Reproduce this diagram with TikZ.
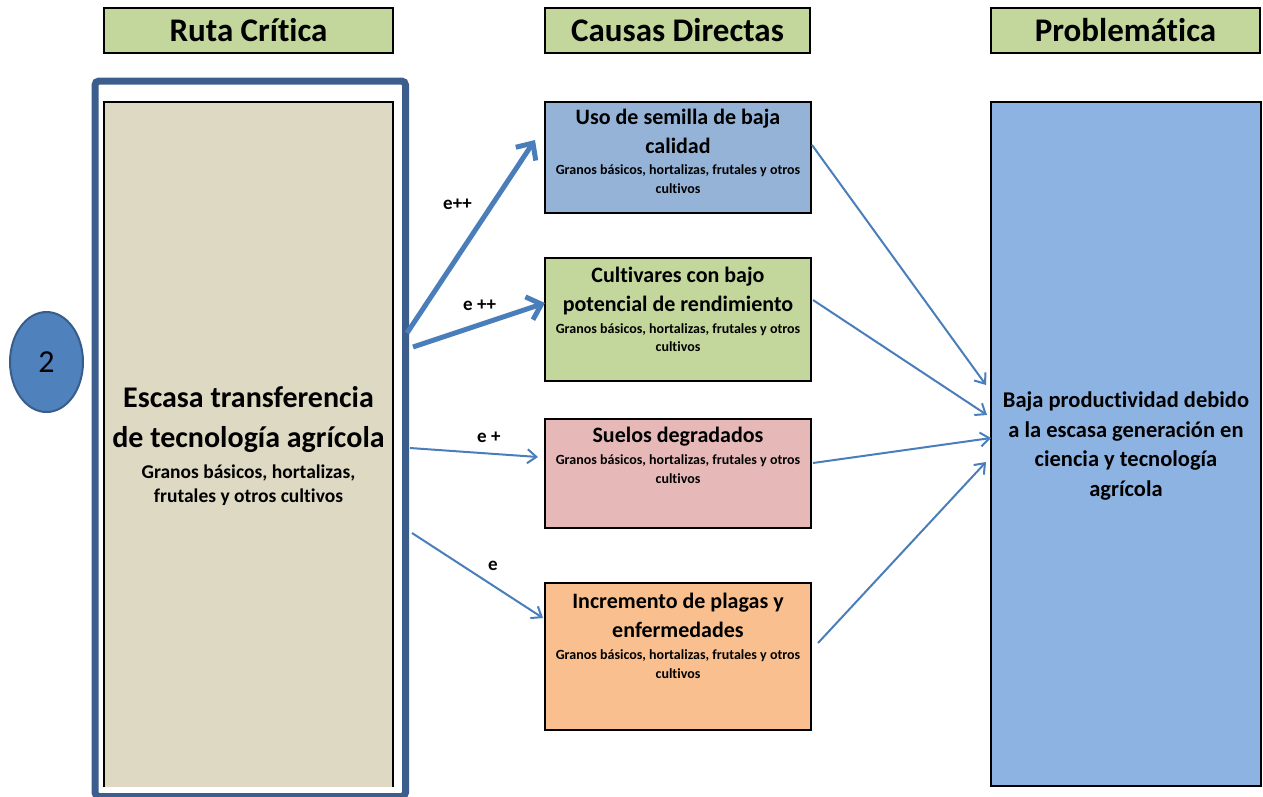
\documentclass[tikz,border=0pt]{standalone}
\usepackage{fontspec}
\setmainfont{Carlito}[Ligatures=NoCommon]
\usetikzlibrary{arrows.meta,calc,shapes.geometric}
\definecolor{titlegreen}{HTML}{C3D69B}
\definecolor{beige}{HTML}{DDD9C3}
\definecolor{frameblue}{HTML}{3B5E8C}
\definecolor{causeblue}{HTML}{95B3D7}
\definecolor{causegreen}{HTML}{C3D69B}
\definecolor{causepink}{HTML}{E6B9B8}
\definecolor{causeorange}{HTML}{F9BF8F}
\definecolor{probblue}{HTML}{8DB3E2}
\definecolor{arrowblue}{HTML}{4A7EBB}
\definecolor{circblue}{HTML}{4F81BD}
\definecolor{circedge}{HTML}{385D8A}
\newcommand\gbtext[1]{{\fontsize{14}{19}\selectfont #1}}
\begin{document}
\begin{tikzpicture}[x=1pt,y=-1pt,
  box/.style={draw=black,line width=2pt,anchor=north west,inner sep=0pt,outer sep=0pt},
  titlebox/.style={box,fill=titlegreen,minimum height=45pt,font=\fontsize{33}{38}\selectfont\bfseries},
  headtext/.style={anchor=north,align=center,inner sep=0pt,font=\fontsize{22}{29}\selectfont\bfseries},
  thickarrow/.style={draw=arrowblue,line width=5pt,-{Straight Barb[length=13pt,width=24pt]}},
  thinarrow/.style={draw=arrowblue,line width=2pt,-{Straight Barb[length=9pt,width=14pt]}},
  elabel/.style={anchor=base west,inner sep=0pt,font=\fontsize{19}{22}\selectfont\bfseries}]
\useasboundingbox (0,0) rectangle (1263,796);
% titles
\node[titlebox,minimum width=289pt] (t1) at (104,8) {Ruta Crítica};
\node[titlebox,minimum width=265pt] (t2) at (545,8) {Causas Directas};
\node[titlebox,minimum width=269pt] (t3) at (991,8) {Problemática};
% frame and main box
\node[draw=frameblue,line width=7pt,rounded corners=4pt,anchor=north west,minimum width=310.5pt,minimum height=715.5pt,inner sep=0pt] (frame) at (91.5,77.5) {};
\node[fill=beige,anchor=north west,minimum width=289pt,minimum height=685pt,inner sep=0pt] (rc) at (104,102) {};
\draw[line width=2pt] (rc.south west) |- (rc.north east) -- (rc.south east);
\node[anchor=north,align=center,inner sep=0pt,font=\fontsize{30}{40}\selectfont\bfseries] (rctext) at (248.5,386.4)
  {Escasa transferencia\\de tecnología agrícola\\[-9pt]{\fontsize{19.5}{24}\selectfont Granos básicos, hortalizas,}\\[-16pt]{\fontsize{19.5}{24}\selectfont frutales y otros cultivos}};
% circle
\node[ellipse,draw=circedge,line width=2pt,fill=circblue,minimum width=73pt,minimum height=100pt,inner sep=0pt,font=\fontsize{32}{38}\selectfont] (num) at (46.5,362) {2};
% cause boxes
\node[box,fill=causeblue,minimum width=266pt,minimum height=111pt] (c1) at (545,102) {};
\node[box,fill=causegreen,minimum width=266pt,minimum height=123pt] (c2) at (545,258) {};
\node[box,fill=causepink,minimum width=266pt,minimum height=109pt] (c3) at (545,419) {};
\node[box,fill=causeorange,minimum width=266pt,minimum height=147pt] (c4) at (545,583) {};
\node[headtext] (h1) at (678,109.2) {Uso de semilla de baja\\calidad\\[-8pt]\gbtext{Granos básicos, hortalizas, frutales y otros}\\[-10pt]\gbtext{cultivos}};
\node[headtext] (h2) at (678,266.9) {Cultivares con bajo\\potencial de rendimiento\\[-7.5pt]\gbtext{Granos básicos, hortalizas, frutales y otros}\\[-10.5pt]\gbtext{cultivos}};
\node[headtext] (h3) at (678,426.9) {Suelos degradados\\[-7.5pt]\gbtext{Granos básicos, hortalizas, frutales y otros}\\[-10pt]\gbtext{cultivos}};
\node[headtext] (h4) at (678,592.5) {Incremento de plagas y\\enfermedades\\[-7pt]\gbtext{Granos básicos, hortalizas, frutales y otros}\\[-10pt]\gbtext{cultivos}};
% problem box
\node[box,fill=probblue,minimum width=270pt,minimum height=684pt] (p) at (991,102) {};
\node[anchor=north,align=center,inner sep=0pt,font=\fontsize{22.5}{29.5}\selectfont\bfseries] (ptext) at (1126,392)
  {Baja productividad debido\\a la escasa generación en\\ciencia y tecnología\\agrícola};
% labels
\node[elabel] (l1) at (443,209) {e++};
\node[elabel] (l2) at (463,310) {e ++};
\node[elabel] (l3) at (477,442.7) {e +};
\node[elabel] (l4) at (488,570.7) {e};
% arrows
\coordinate (s1) at (407,333);
\coordinate (s2) at (413,347);
\coordinate (s3) at (410,448);
\coordinate (s4) at (412,533);
\draw[thickarrow] (s1) -- ($(c1.north west)+(-10,38)$);
\draw[thickarrow] (s2) -- ($(c2.north west)+(0,45)$);
\draw[thinarrow] (s3) -- ($(c3.north west)+(-7,38)$);
\draw[thinarrow] (s4) -- ($(c4.north west)+(-2,35)$);
\draw[thinarrow] ($(c1.north east)+(1,43)$) -- ($(p.north west)+(-5,283)$);
\draw[thinarrow] ($(c2.north east)+(2,42)$) -- ($(p.north west)+(-4,313)$);
\draw[thinarrow] ($(c3.north east)+(2,44)$) -- ($(p.north west)+(0,336)$);
\draw[thinarrow] ($(c4.north east)+(7,60)$) -- ($(p.north west)+(-5,360)$);
\end{tikzpicture}
\end{document}
